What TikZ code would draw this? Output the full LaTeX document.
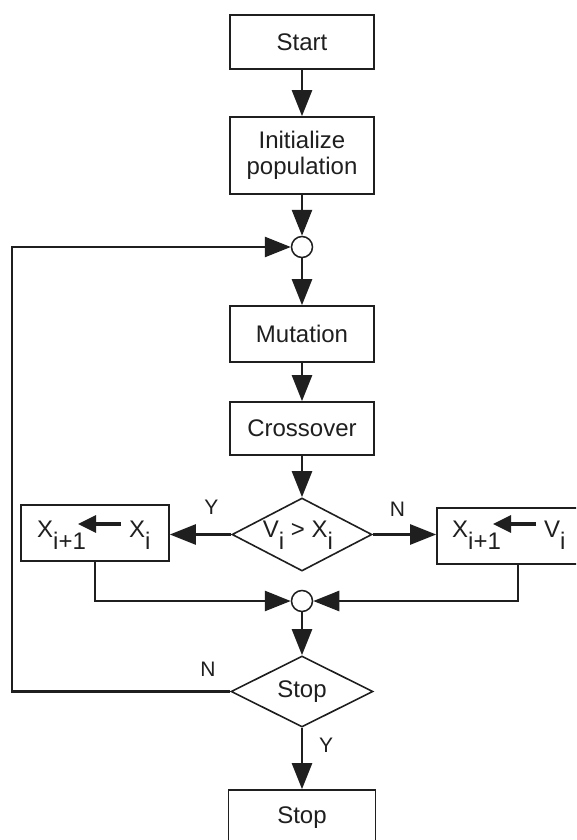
\documentclass[tikz,border=0pt]{standalone}
\usepackage{fontspec}
\setmainfont{Liberation Sans}
\usetikzlibrary{arrows.meta,shapes.geometric}
\definecolor{ink}{gray}{0.12}
\newcommand{\subx}[1]{\raisebox{-12pt}{#1}}
\begin{document}
\begin{tikzpicture}[x=1pt,y=-1pt,
  box/.style={draw=ink, line width=1.6pt, minimum width=144pt, inner sep=0pt,
    font=\fontsize{24}{26.5}\selectfont, align=center, text=ink},
  dia/.style={shape=diamond, draw=ink, line width=1.6pt, inner sep=0pt, aspect=2,
    font=\fontsize{24}{26}\selectfont, text=ink},
  junc/.style={circle, draw=ink, line width=1.5pt, minimum size=21pt, inner sep=0pt, fill=white},
  txt/.style={inner sep=0pt, font=\fontsize{24}{26}\selectfont, text=ink},
  lbl/.style={inner sep=0pt, font=\fontsize{21}{24}\selectfont, text=ink},
  conn/.style={draw=ink, line width=2.6pt, -{Triangle[length=26pt,width=20pt]}},
  inarr/.style={draw=ink, line width=3.2pt, -{Triangle[length=18pt,width=17pt]}}
]
\clip (0,0) rectangle (576,840);
\fill[white] (0,0) rectangle (576,840);

% main column
\node[box, minimum height=54pt] (start) at (302,42) {Start};
\node[box, minimum height=77pt] (init) at (302,155.5) {Initialize\\population};
\node[junc] (c1) at (302,247) {};
\node[box, minimum height=56pt] (mut) at (302,334) {Mutation};
\node[box, minimum height=53pt] (cross) at (302,428.5) {Crossover};
\node[dia, minimum width=140pt, minimum height=73pt] (d1) at (302,534.5) {};
\node[txt, anchor=base] (d1t) at (298,537) {V\subx{i} > X\subx{i}};

% side boxes
\node[box, minimum width=148pt, minimum height=56pt] (lb) at (95,533) {};
\node[txt, anchor=base west] (lx1) at (37,537) {X\subx{i+1}};
\node[txt, anchor=base west] (lx2) at (129,537) {X\subx{i}};
\coordinate (la1) at (121,524);
\coordinate (la2) at (78,524);
\draw[inarr] (la1) -- (la2);

\node[box, minimum width=162pt, minimum height=56pt] (rb) at (518,536) {};
\node[txt, anchor=base west] (rx1) at (452,537) {X\subx{i+1}};
\node[txt, anchor=base west] (rv) at (544,537) {V\subx{i}};
\coordinate (ra1) at (536,524);
\coordinate (ra2) at (493,524);
\draw[inarr] (ra1) -- (ra2);

\node[junc] (c2) at (302,601) {};
\node[dia, minimum width=142pt, minimum height=71pt] (d2) at (302,691.5) {Stop};
\node[box, minimum width=147pt, minimum height=56pt] (stop) at (302,818) {Stop};

% labels
\node[lbl] (ly1) at (211.5,507) {Y};
\node[lbl] (ln1) at (397.5,509.5) {N};
\node[lbl] (ln2) at (208,669) {N};
\node[lbl] (ly2) at (326,745) {Y};

% loop corner
\coordinate (lc) at (12,691.5);

% connectors
\draw[conn] (start) -- (init);
\draw[conn] (init) -- (c1);
\draw[conn] (c1) -- (mut);
\draw[conn] (mut) -- (cross);
\draw[conn] (cross) -- (d1);
\draw[conn] (d1.west) -- (d1.west -| lb.east);
\draw[conn] (d1.east) -- (d1.east -| rb.west);
\draw[conn] (lb.south) |- (c2.west);
\draw[conn] (rb.south) |- (c2.east);
\draw[conn] (c2) -- (d2);
\draw[conn] (d2) -- (stop);
\draw[conn] (d2.west) -- (lc) |- (c1.west);
\end{tikzpicture}
\end{document}
